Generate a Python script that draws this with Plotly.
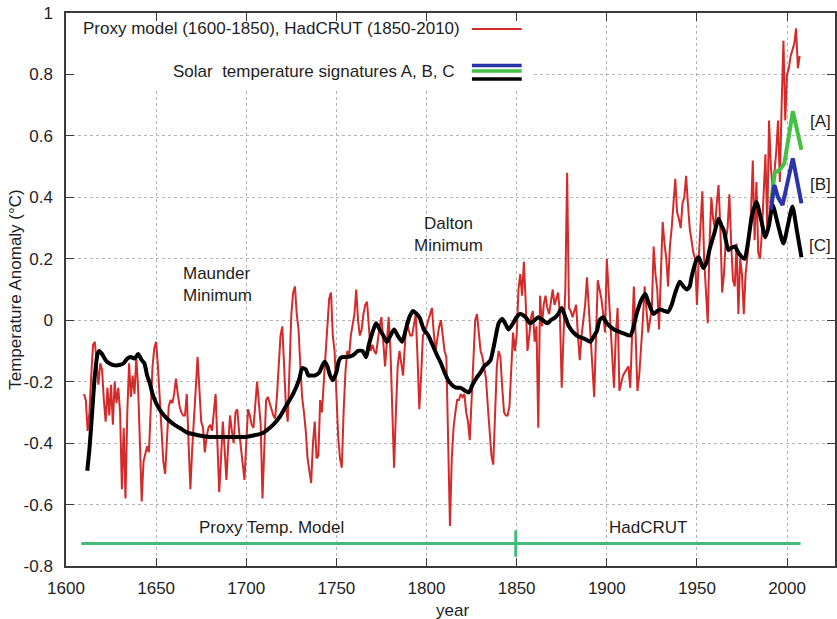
import plotly.graph_objects as go

# ---------------------------------------------------------------- data
# Proxy temperature model, annual anomalies 1610-1849 (deg C)
proxy_start = 1610
proxy_anom = [
    -0.24, -0.26, -0.36, -0.30, -0.18, -0.08, -0.07, -0.15, -0.21, -0.14,
    -0.16, -0.26, -0.33, -0.22, -0.31, -0.21, -0.34, -0.20, -0.27, -0.22,
    -0.30, -0.55, -0.35, -0.58, -0.30, -0.14, -0.25, -0.18, -0.24, -0.12,
    -0.22, -0.40, -0.59, -0.46, -0.43, -0.41, -0.43, -0.30, -0.15, -0.09,
    -0.07, -0.15, -0.25, -0.38, -0.46, -0.50, -0.38, -0.28, -0.26, -0.27,
    -0.24, -0.19, -0.24, -0.28, -0.30, -0.31, -0.31, -0.24, -0.40, -0.55,
    -0.42, -0.30, -0.22, -0.12, -0.24, -0.33, -0.35, -0.43, -0.38, -0.35,
    -0.34, -0.36, -0.30, -0.24, -0.40, -0.56, -0.45, -0.33, -0.42, -0.52,
    -0.40, -0.31, -0.36, -0.40, -0.30, -0.29, -0.36, -0.42, -0.47, -0.52,
    -0.40, -0.29, -0.31, -0.34, -0.35, -0.26, -0.20, -0.27, -0.34, -0.58,
    -0.40, -0.26, -0.25, -0.27, -0.29, -0.31, -0.32, -0.25, -0.15, -0.05,
    -0.02, -0.15, -0.28, -0.33, -0.15, 0.02, 0.09, 0.11, 0.02, -0.03,
    -0.15, -0.25, -0.30, -0.36, -0.45, -0.49, -0.53, -0.40, -0.33, -0.45,
    -0.44, -0.26, -0.30, -0.20, -0.10, 0.00, 0.07, 0.09, -0.05, -0.10,
    -0.25, -0.38, -0.45, -0.48, -0.30, -0.17, -0.10, -0.12, -0.05, -0.02,
    0.02, 0.10, 0.00, -0.05, -0.03, 0.02, 0.05, 0.06, -0.04, -0.10,
    -0.08, -0.10, -0.11, -0.06, -0.02, 0.01, -0.08, -0.15, -0.07, 0.01,
    -0.10, -0.30, -0.48, -0.30, -0.15, -0.10, -0.14, -0.18, -0.08, 0.00,
    -0.03, -0.05, -0.05, -0.01, 0.02, -0.12, -0.29, -0.18, -0.05, -0.04,
    -0.02, 0.00, 0.02, 0.04, -0.04, -0.10, -0.06, -0.02, 0.00, -0.06,
    -0.10, -0.12, -0.40, -0.67, -0.45, -0.35, -0.30, -0.26, -0.26, -0.24,
    -0.25, -0.24, -0.30, -0.33, -0.39, -0.25, -0.10, 0.00, 0.02, -0.05,
    -0.10, -0.12, -0.15, -0.19, -0.28, -0.38, -0.44, -0.47, -0.30, -0.15,
    -0.10, -0.12, -0.22, -0.30, -0.31, -0.31, -0.28, -0.15, -0.04, -0.10,
]

# HadCRUT annual anomalies 1850-2007 (deg C)
hadcrut_start = 1850
hadcrut_anom = [
    -0.05, 0.10, 0.15, 0.08, 0.19, 0.06, -0.10, -0.05, 0.01, 0.03,
    -0.07, -0.02, -0.35, 0.08, -0.02, 0.05, 0.08, 0.04, 0.02, 0.06,
    0.10, 0.05, 0.07, 0.09, 0.02, -0.22, -0.05, 0.10, 0.48, 0.04,
    0.03, 0.01, 0.03, 0.05, -0.05, -0.13, -0.05, 0.01, 0.05, 0.14,
    0.03, -0.05, -0.15, -0.25, -0.05, 0.13, 0.10, 0.07, 0.02, -0.04,
    0.20, 0.10, -0.04, -0.12, -0.22, -0.05, 0.04, -0.23, -0.20, -0.18,
    -0.17, -0.16, -0.15, -0.22, -0.05, 0.11, -0.05, -0.23, -0.18, -0.10,
    0.00, 0.11, 0.03, -0.04, 0.00, 0.04, 0.24, 0.15, 0.10, -0.03,
    0.15, 0.32, 0.25, 0.20, 0.11, 0.24, 0.30, 0.38, 0.46, 0.35,
    0.33, 0.30, 0.38, 0.40, 0.47, 0.38, 0.30, 0.26, 0.22, 0.20,
    0.05, 0.20, 0.30, 0.42, 0.20, 0.08, -0.01, 0.25, 0.40, 0.33,
    0.30, 0.38, 0.44, 0.30, 0.09, 0.15, 0.26, 0.30, 0.41, 0.25,
    0.13, 0.11, 0.25, 0.02, 0.20, 0.15, 0.02, 0.15, 0.20, 0.26,
    0.35, 0.52, 0.26, 0.45, 0.22, 0.20, 0.28, 0.40, 0.54, 0.30,
    0.65, 0.50, 0.43, 0.48, 0.55, 0.65, 0.45, 0.70, 0.91, 0.65,
    0.80, 0.82, 0.86, 0.88, 0.90, 0.95, 0.82, 0.86,
]

# Smoothed solar-driven temperature curve (signature C), (year, anomaly)
smooth_points = [
    (1611.8, -0.49), (1613, -0.42), (1614.5, -0.30), (1616, -0.18),
    (1617.5, -0.11), (1618.5, -0.10), (1620, -0.11), (1622, -0.13),
    (1624, -0.14), (1627, -0.147), (1630, -0.145), (1632, -0.14),
    (1634, -0.125), (1636, -0.12), (1638, -0.125), (1640, -0.11),
    (1642, -0.13), (1643.5, -0.14), (1645, -0.18), (1646.5, -0.205),
    (1648, -0.24), (1650, -0.27), (1653, -0.30), (1656, -0.32),
    (1660, -0.34), (1663, -0.35), (1667, -0.365), (1674, -0.375),
    (1680, -0.38), (1690, -0.38), (1700, -0.38), (1704, -0.375),
    (1708, -0.37), (1711, -0.36), (1715, -0.34), (1718.5, -0.315),
    (1722, -0.28), (1726, -0.24), (1729.5, -0.19), (1731, -0.156),
    (1733, -0.16), (1734.5, -0.18), (1736, -0.18), (1738, -0.18),
    (1740.5, -0.17), (1742, -0.15), (1743.5, -0.135), (1745, -0.15),
    (1746.5, -0.18), (1748, -0.195), (1750, -0.17), (1751.5, -0.13),
    (1753, -0.12), (1756, -0.12), (1759, -0.115), (1762, -0.10),
    (1764.5, -0.10), (1766.5, -0.12), (1768, -0.08), (1770, -0.04),
    (1772, -0.01), (1774, -0.03), (1776, -0.05), (1778, -0.07),
    (1780, -0.05), (1782, -0.03), (1784, -0.05), (1786.5, -0.07),
    (1788.5, -0.03), (1790.5, 0.01), (1792.5, 0.03), (1796, 0.01),
    (1798.5, -0.03), (1801, -0.05), (1803, -0.076), (1805.5, -0.11),
    (1808, -0.14), (1810, -0.17), (1812.5, -0.20), (1815, -0.215),
    (1817, -0.22), (1819, -0.22), (1821.5, -0.23), (1823.5, -0.235),
    (1825.5, -0.21), (1828, -0.185), (1830, -0.17), (1832, -0.15),
    (1834, -0.14), (1835.5, -0.13), (1837.5, -0.08), (1840, -0.01),
    (1842, 0.005), (1844, -0.015), (1845.5, -0.03), (1848, -0.01),
    (1850, 0.01), (1852, 0.02), (1855, 0.01), (1857.5, -0.01),
    (1860, 0.00), (1862, 0.01), (1864.5, 0.00), (1867, -0.01),
    (1869, 0.00), (1871.5, 0.01), (1873, 0.02), (1875, 0.04),
    (1877, 0.01), (1879, -0.02), (1881.5, -0.04), (1884.5, -0.054),
    (1887.5, -0.06), (1891, -0.07), (1892.5, -0.055), (1894.5, -0.035),
    (1896, 0.00), (1898, 0.01), (1900, -0.01), (1904, -0.03),
    (1908, -0.04), (1913, -0.05), (1914.5, -0.03), (1916.5, 0.02),
    (1919.5, 0.07), (1921.5, 0.085), (1923, 0.06), (1926, 0.02),
    (1928, 0.03), (1930, 0.035), (1932, 0.03), (1934, 0.027),
    (1936, 0.05), (1938, 0.09), (1940.5, 0.125), (1942.5, 0.11),
    (1944.5, 0.10), (1946, 0.11), (1947, 0.14), (1950, 0.20),
    (1951, 0.205), (1953.5, 0.17), (1955.5, 0.19), (1957, 0.23),
    (1959.5, 0.28), (1962, 0.33), (1963.5, 0.31), (1965, 0.29),
    (1967.5, 0.228), (1969, 0.235), (1971, 0.24), (1973, 0.22),
    (1975, 0.205), (1976.5, 0.20), (1978.5, 0.26), (1980.5, 0.34),
    (1983, 0.385), (1985.5, 0.33), (1988, 0.27), (1990, 0.31),
    (1992, 0.375), (1995, 0.31), (1998, 0.25), (2000.5, 0.31),
    (2003, 0.37), (2005.5, 0.29), (2008, 0.205),
]

# Solar temperature signatures A and B after 1991
sig_a_years = [1991, 1992, 1993.2, 1996, 1998.5, 2003.2, 2008]
sig_a_anom = [0.38, 0.43, 0.48, 0.49, 0.51, 0.68, 0.555]
sig_b_years = [1991, 1993, 1995, 1997.5, 2003.2, 2008]
sig_b_anom = [0.36, 0.44, 0.40, 0.375, 0.527, 0.38]

# Data-source periods shown along the bottom
period_start, period_split, period_end = 1608.5, 1849.5, 2007.5
period_level = -0.727
period_tick_half = 0.043

x_ticks = [1600, 1650, 1700, 1750, 1800, 1850, 1900, 1950, 2000]
y_ticks = [-0.8, -0.6, -0.4, -0.2, 0, 0.2, 0.4, 0.6, 0.8, 1.0]
y_tick_text = ["-0.8", "-0.6", "-0.4", "-0.2", "0", "0.2", "0.4", "0.6", "0.8", "1"]

# ---------------------------------------------------------------- style
FONT = "Liberation Sans, Arial, sans-serif"
TXT = "#1e1e1e"
RED = "#d42a2a"
GREEN = "#44c144"
BLUE = "#2b34a8"
TEAL = "#45b97a"
FS = 17

red_years = list(range(proxy_start, proxy_start + len(proxy_anom))) + \
    list(range(hadcrut_start, hadcrut_start + len(hadcrut_anom)))
red_vals = proxy_anom + hadcrut_anom
smooth_years = [p[0] for p in smooth_points]
smooth_vals = [p[1] for p in smooth_points]

fig = go.Figure()
fig.add_trace(go.Scatter(x=red_years, y=red_vals, mode="lines",
                         line=dict(color=RED, width=2)))
fig.add_trace(go.Scatter(x=smooth_years, y=smooth_vals, mode="lines",
                         line=dict(color="black", width=4, shape="spline", smoothing=0.6)))
fig.add_trace(go.Scatter(x=sig_a_years, y=sig_a_anom, mode="lines",
                         line=dict(color=GREEN, width=4)))
fig.add_trace(go.Scatter(x=sig_b_years, y=sig_b_anom, mode="lines",
                         line=dict(color=BLUE, width=4)))

# period bar with the 1850 divider
fig.add_trace(go.Scatter(x=[period_start, period_end], y=[period_level, period_level],
                         mode="lines", line=dict(color=TEAL, width=3)))
fig.add_trace(go.Scatter(x=[period_split, period_split],
                         y=[period_level - period_tick_half, period_level + period_tick_half],
                         mode="lines", line=dict(color=TEAL, width=3)))

# key box (hides the grid behind the key)
fig.add_shape(type="rect", xref="x", yref="y", x0=1600.6, x1=1858.5, y0=0.749, y1=0.997,
              fillcolor="white", line=dict(width=0), layer="between")
key_x0, key_x1 = 1825.2, 1852.8
fig.add_shape(type="line", xref="x", yref="y", x0=key_x0, x1=key_x1, y0=0.948, y1=0.948,
              line=dict(color=RED, width=2))
for yk, col in [(0.829, BLUE), (0.811, GREEN), (0.785, "black")]:
    fig.add_shape(type="line", xref="x", yref="y", x0=key_x0, x1=key_x1, y0=yk, y1=yk,
                  line=dict(color=col, width=3.5))


def label(text, x, y, xanchor="center", align="center", xref="x", yref="y", angle=0):
    fig.add_annotation(text=text, x=x, y=y, xref=xref, yref=yref, xanchor=xanchor,
                       yanchor="middle", align=align, showarrow=False, textangle=angle,
                       font=dict(family=FONT, size=FS, color=TXT))


label("Proxy model (1600-1850), HadCRUT (1850-2010)", 1819.8, 0.948, xanchor="right")
label("Solar  temperature signatures A, B, C", 1817.0, 0.808, xanchor="right")
label("Maunder<br>Minimum", 1664.0, 0.117, xanchor="left", align="left")
label("Dalton<br>Minimum", 1812.0, 0.28)
label("[A]", 2018.5, 0.647)
label("[B]", 2018.5, 0.441)
label("[C]", 2018.5, 0.244)
label("Proxy Temp. Model", 1713.8, -0.674)
label("HadCRUT", 1923.0, -0.674)
label("Temperature Anomaly (°C)", -0.066, 0.5, xref="paper", yref="paper", angle=-90)
label("year", 0.502, -0.08, xref="paper", yref="paper")

axis_common = dict(
    showline=True, linecolor="#3a3a3a", linewidth=1.5, mirror="ticks",
    ticks="inside", ticklen=8, tickwidth=1.2, tickcolor="#3a3a3a",
    showgrid=True, gridcolor="#b4b4b4", griddash="dot", gridwidth=1,
    zeroline=False, tickfont=dict(family=FONT, size=FS, color=TXT),
)

fig.update_layout(
    width=837, height=619,
    margin=dict(l=66, r=0, t=13, b=53),
    paper_bgcolor="white", plot_bgcolor="white",
    showlegend=False,
    xaxis=dict(range=[1600, 2026.6], tickvals=x_ticks, ticklabelstandoff=6, **axis_common),
    yaxis=dict(range=[-0.8, 1.0], tickvals=y_ticks, ticktext=y_tick_text,
               ticklabelstandoff=8, **axis_common),
)

fig.write_html("out.html")
